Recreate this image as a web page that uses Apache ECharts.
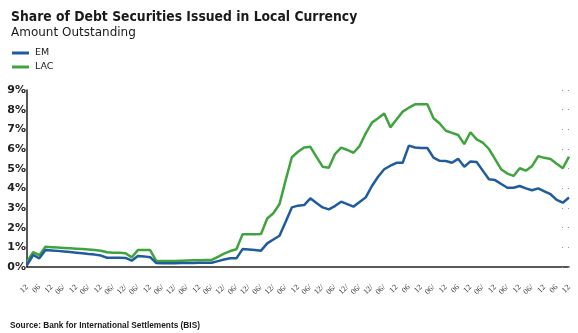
<!DOCTYPE html>
<html>
<head>
<meta charset="utf-8">
<style>
  html, body { margin: 0; padding: 0; background: #fff; }
  #chart { width: 578px; height: 333px; }
</style>
<script src="https://cdn.jsdelivr.net/npm/echarts@6/dist/echarts.min.js"></script>
</head>
<body>
<div id="chart"></div>
<script>
// Quarterly observations, labelled every half year
const tickLabels = [
  '12','06','12','06/','12','06/','12','06/','12/','06/','12','06/','12/','06/','12','06/',
  '12/','06/','12/','06/','12/','06/','12','06/','12/','06/','12/','06/','12/','06/','12',
  '06','12','06/','12','06','12','06/','12','06/','12','06/','12','06','12','06/','12'
];

const emShare = [
  0.10, 0.61, 0.44, 0.86, 0.84, 0.82, 0.79, 0.76, 0.73, 0.70,
  0.66, 0.63, 0.58, 0.47, 0.47, 0.47, 0.46, 0.32, 0.56, 0.54,
  0.50, 0.20, 0.19, 0.19, 0.19, 0.20, 0.20, 0.20, 0.21, 0.21,
  0.22, 0.30, 0.38, 0.44, 0.44, 0.91, 0.89, 0.87, 0.83, 1.20,
  1.40, 1.59, 2.30, 3.03, 3.12, 3.15, 3.49, 3.25, 3.03, 2.93,
  3.10, 3.32, 3.20, 3.07, 3.30, 3.54, 4.12, 4.59, 4.97, 5.15,
  5.30, 5.30, 6.17, 6.08, 6.05, 6.05, 5.56, 5.40, 5.39, 5.30,
  5.50, 5.10, 5.37, 5.34, 4.90, 4.46, 4.42, 4.22, 4.03, 4.03,
  4.12, 4.00, 3.90, 4.00, 3.85, 3.70, 3.41, 3.27, 3.53
];

const lacShare = [
  0.27, 0.75, 0.60, 1.03, 1.01, 0.99, 0.97, 0.95, 0.93, 0.91,
  0.89, 0.86, 0.83, 0.75, 0.73, 0.72, 0.70, 0.49, 0.86, 0.86,
  0.86, 0.30, 0.30, 0.30, 0.31, 0.32, 0.33, 0.34, 0.34, 0.35,
  0.36, 0.52, 0.68, 0.81, 0.90, 1.66, 1.67, 1.67, 1.68, 2.47,
  2.73, 3.20, 4.42, 5.58, 5.86, 6.08, 6.11, 5.60, 5.10, 5.05,
  5.74, 6.07, 5.95, 5.81, 6.15, 6.80, 7.34, 7.56, 7.81, 7.10,
  7.50, 7.90, 8.10, 8.27, 8.27, 8.27, 7.56, 7.30, 6.93, 6.82,
  6.71, 6.25, 6.85, 6.49, 6.32, 6.00, 5.48, 4.96, 4.75, 4.63,
  5.02, 4.90, 5.13, 5.64, 5.55, 5.49, 5.25, 5.02, 5.61
];

// Category per quarter; every second one carries a half-year label
const categories = emShare.map((_, i) => (i % 2 === 0 ? tickLabels[i / 2] : ''));

const chart = echarts.init(document.getElementById('chart'), null, { renderer: 'canvas' });

const valueAxisBase = { type: 'value', min: 0, max: 9, interval: 1 };

chart.setOption({
  animation: false,
  backgroundColor: '#ffffff',
  title: [
    {
      text: 'Share of Debt Securities Issued in Local Currency',
      left: 6, top: 5,
      textStyle: { fontFamily: 'DejaVu Sans Condensed', fontWeight: 'bold', fontSize: 13.8, color: '#1a1a1a' }
    },
    {
      text: 'Amount Outstanding',
      left: 6, top: 22,
      textStyle: { fontFamily: 'DejaVu Sans', fontWeight: 'normal', fontSize: 12, color: '#1a1a1a' }
    },
    {
      text: 'Source: Bank for International Settlements (BIS)',
      left: 5, top: 317,
      textStyle: { fontFamily: 'Liberation Sans', fontWeight: 'bold', fontSize: 8.3, color: '#1a1a1a' }
    }
  ],
  legend: {
    orient: 'vertical',
    left: 7, top: 43,
    icon: 'rect',
    itemWidth: 17, itemHeight: 3,
    itemGap: 4,
    textStyle: { fontFamily: 'DejaVu Sans', fontSize: 9.5, color: '#1a1a1a', padding: [0, 0, 0, 1] },
    data: ['EM', 'LAC']
  },
  grid: { left: 27, right: 9, top: 90, bottom: 66, containLabel: false },
  xAxis: {
    type: 'category',
    data: categories,
    boundaryGap: false,
    axisLine: { show: true, lineStyle: { color: '#222', width: 1.5 } },
    axisTick: { show: false },
    axisLabel: {
      interval: 0,
      rotate: 45,
      margin: 19,
      fontFamily: 'Liberation Serif',
      fontSize: 8,
      color: '#333'
    },
    splitLine: { show: false }
  },
  yAxis: [
    Object.assign({}, valueAxisBase, {
      position: 'left',
      axisLine: { show: true, lineStyle: { color: '#222', width: 1.5 } },
      axisTick: { show: false },
      splitLine: { show: false },
      axisLabel: {
        formatter: '{value}%',
        margin: 1,
        fontFamily: 'DejaVu Sans',
        fontWeight: 'bold',
        fontSize: 11,
        color: '#222',
        padding: [6, 0, 0, 0]
      }
    }),
    Object.assign({}, valueAxisBase, {
      position: 'right',
      axisLine: { show: false },
      axisLabel: { show: false },
      splitLine: { show: false },
      axisTick: {
        show: true,
        inside: true,
        length: 8,
        lineStyle: { color: '#999', width: 1, type: [1, 5] }
      }
    })
  ],
  series: [
    {
      name: 'EM',
      type: 'line',
      data: emShare,
      yAxisIndex: 0,
      showSymbol: false,
      symbol: 'none',
      lineStyle: { color: '#1f5c9e', width: 2.5 },
      itemStyle: { color: '#1f5c9e' },
      z: 3
    },
    {
      name: 'LAC',
      type: 'line',
      data: lacShare,
      yAxisIndex: 0,
      showSymbol: false,
      symbol: 'none',
      lineStyle: { color: '#3fa43e', width: 2.5 },
      itemStyle: { color: '#3fa43e' },
      z: 2
    }
  ]
});
</script>
</body>
</html>
